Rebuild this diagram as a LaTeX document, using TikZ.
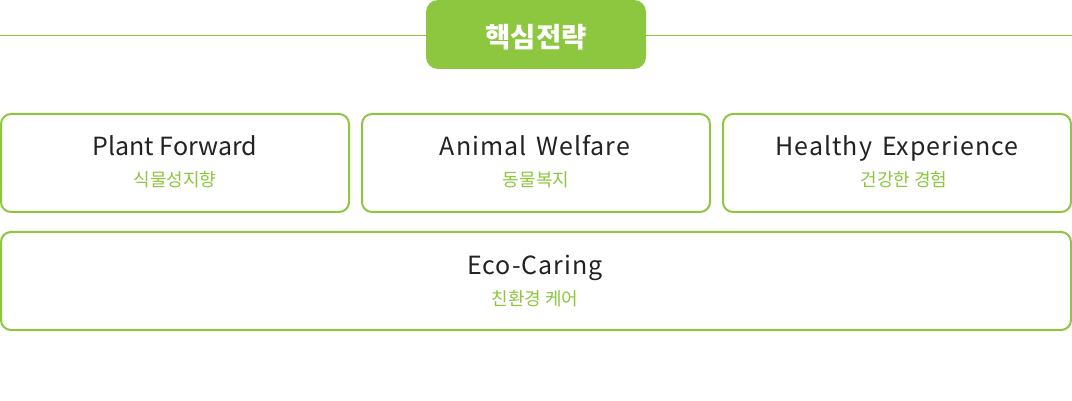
\documentclass[tikz,border=0pt]{standalone}
\usepackage{fontspec}
\setmainfont{Noto Sans CJK KR}
\newfontfamily\kr{Noto Sans CJK KR}
\newfontfamily\ttlfont[LetterSpace=4,WordSpace=1.5]{Noto Sans CJK KR}
\definecolor{lgreen}{HTML}{8DC63F}
\definecolor{tdark}{HTML}{222222}
\begin{document}
\begin{tikzpicture}[x=1pt,y=-1pt,
  card/.style={draw=lgreen,line width=2pt,rounded corners=10pt,fill=white},
  ttl/.style={font=\ttlfont\fontsize{25}{28}\selectfont,text=tdark,anchor=base,inner sep=0},
  ttlplain/.style={font=\kr\fontsize{25}{28}\selectfont,text=tdark,anchor=base,inner sep=0},
  sub/.style={font=\kr\fontsize{18}{21}\selectfont,text=lgreen,anchor=base,inner sep=0}]
\useasboundingbox (0,0) rectangle (1072,401);
\coordinate (l0) at (0,35.5);
\coordinate (l1) at (1072,35.5);
\draw[lgreen,line width=1pt] (l0) -- (l1);
\node[fill=lgreen,rounded corners=12pt,minimum width=220pt,minimum height=69pt,inner sep=0] (badge) at (536,34.5) {};
\node[text=white,font=\kr\bfseries\fontsize{27.5}{31}\selectfont,anchor=base,inner sep=0] (bt) at (536,47.5) {핵심전략};
\draw[card] (1,114) rectangle (349,212);
\draw[card] (362,114) rectangle (710,212);
\draw[card] (723,114) rectangle (1071,212);
\draw[card] (1,232) rectangle (1071,330);
\node[ttlplain] (t1) at (175,155.5) {Plant Forward};
\node[sub] (s1) at (175,187) {식물성지향};
\node[ttl] (t2) at (535,155.5) {Animal Welfare};
\node[sub] (s2) at (536,187) {동물복지};
\node[ttl] (t3) at (897,155.5) {Healthy Experience};
\node[sub] (s3) at (904,187) {건강한 경험};
\node[ttl] (t4) at (535,274) {Eco-Caring};
\node[sub] (s4) at (535,305.5) {친환경 케어};
\end{tikzpicture}
\end{document}
